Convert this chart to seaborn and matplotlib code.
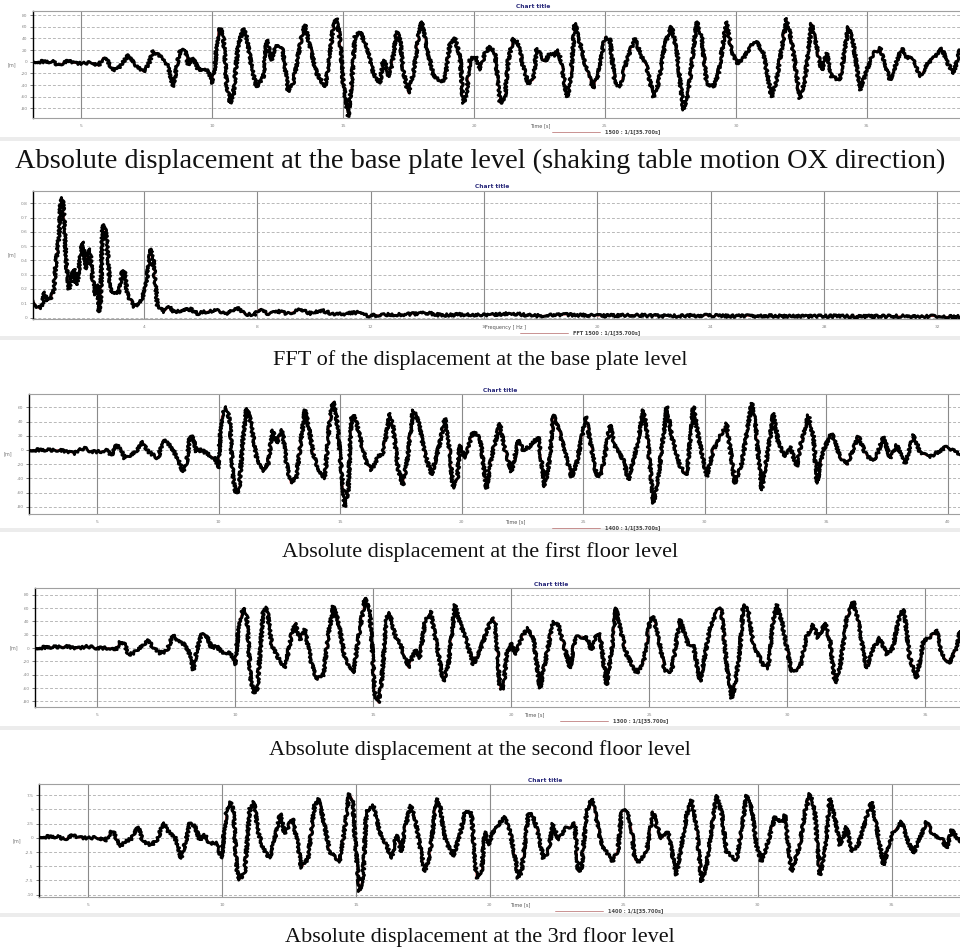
import matplotlib
matplotlib.use("Agg")
import matplotlib.pyplot as plt
from matplotlib.patches import Rectangle
import seaborn as sns

sns.set_theme(style="white")
plt.rcParams['font.family'] = ['DejaVu Sans']

# ---- base plate displacement (time [s], displacement)
base_t = [3.18, 3.94, 4.13, 4.52, 4.77, 5.47, 5.66, 5.85, 6.04, 6.23, 6.42, 6.81, 6.93, 7.12, 7.38,
          7.57, 7.76, 7.95, 8.14, 8.33, 8.52, 8.65, 8.78, 8.97, 9.10, 9.22, 9.35, 9.48, 9.73, 9.86,
          9.99, 10.11, 10.24, 10.37, 10.43, 10.56, 10.69, 10.81, 10.99, 11.20, 11.32, 11.51, 11.70,
          11.96, 12.09, 12.28, 12.40, 12.66, 12.79, 12.91, 13.10, 13.42, 13.55, 13.74, 14.00, 14.31,
          14.44, 14.63, 14.76, 14.89, 15.01, 15.20, 15.33, 15.46, 15.65, 15.90, 16.16, 16.41, 16.54,
          16.67, 16.73, 16.86, 17.05, 17.18, 17.30, 17.49, 17.69, 17.88, 18.00, 18.19, 18.45, 18.70,
          18.89, 19.08, 19.27, 19.47, 19.59, 19.72, 19.85, 19.97, 20.10, 20.23, 20.42, 20.61, 20.80,
          21.00, 21.18, 21.31, 21.50, 21.69, 21.88, 22.07, 22.27, 22.39, 22.58, 22.71, 22.90, 23.09,
          23.21, 23.34, 23.54, 23.66, 23.85, 24.05, 24.30, 24.55, 24.75, 25.00, 25.19, 25.38, 25.57,
          25.83, 26.15, 26.34, 26.59, 26.85, 27.04, 27.29, 27.54, 27.74, 27.99, 28.18, 28.50, 28.69,
          28.88, 29.14, 29.33, 29.64, 29.83, 30.03, 30.28, 30.60, 30.79, 31.04, 31.36, 31.55, 31.93,
          32.12, 32.44, 32.63, 32.89, 33.08, 33.27, 33.46, 33.65, 33.97, 34.29, 34.48, 34.73, 34.99,
          35.24, 35.50, 35.69, 35.88, 36.32, 36.51, 36.77, 37.02, 37.28, 37.60, 37.86, 38.05, 38.30,
          38.55]
base_d = [0, 0, -5.7, 1.7, -2.9, -1.7, -7.4, 7.4, 0, -15.4, -11.4, 11.4, 2.9, -8.6, -17.1,
          -5.7, 18.8, 11.4, 5.7, -8.6, -42.8, -8.6, 18.8, 20.0, -5.7, 5.7, 0, -14.3, -11.4, -17.1,
          -37.1, -8.6, 54.2, 57.1, 48.5, -37.1, -71.4, -60, 25.7, 57.1, 42.8, -8.6, -42.8,
          -25.7, 37.1, 2.9, 25.7, 25.7, -8.6, -51.4, -37.1, 42.8, 62.8, 25.7, -20, -42.8,
          -8.6, 60, 74.2, 37.1, -37.1, -94.2, -37.1, 42.8, 51.4, 25.7, -20, -37.1, 2.9,
          -8.6, -25.7, -8.6, 51.4, 37.1, -14.3, -54.2, -20, 42.8, 68.5, 25.7, -22.8, -34.2,
          -31.4, 28.5, 40, 8.6, -71.4, -54.2, 2.9, 8.6, 5.7, -14.3, 14.3, 25.7, 14.3,
          -71.4, -60, 2.9, 40, 31.4, -8.6, -37.1, -31.4, 22.8, 8.6, 0, 14.3, 11.4,
          20, -2.9, -60, -42.8, 65.7, 31.4, -14.3, -45.7, -20, 42.8, 37.1, -37.1, -42.8,
          2.9, 40, 14.3, -8.6, -60, -37.1, 31.4, 60, 20, -82.8, -54.2, 68.5, 42.8,
          -37.1, -42.8, -20, 68.5, 20, -2.9, 5.7, 28.5, 34.2, 14.3, -60, -31.4, 74.2,
          37.1, -62.8, -31.4, 65.7, 25.7, -14.3, 14.3, -25.7, -31.4, 60, 31.4, -48.5, -14.3,
          14.3, 22.8, -2.9, -31.4, 22.8, 8.6, 2.9, -25.7, -5.7, 8.6, 22.8, 0, -20,
          20]

# ---- FFT of base plate displacement (frequency [Hz], amplitude)
fft_f = [0.08, 0.18, 0.29, 0.41, 0.47, 0.59, 0.71, 0.82, 0.88, 1.00, 1.06, 1.12, 1.18, 1.24, 1.35,
         1.47, 1.53, 1.59, 1.65, 1.76, 1.82, 1.88, 1.94, 2.00, 2.09, 2.18, 2.29, 2.35, 2.41, 2.47,
         2.53, 2.59, 2.68, 2.82, 3.00, 3.12, 3.24, 3.32, 3.41, 3.65, 3.88, 4.06, 4.24, 4.33, 4.47,
         4.71, 4.88, 5.06, 5.29, 5.65, 5.88, 6.24, 6.59, 6.94, 7.29, 7.53, 7.88, 8.06, 8.35, 8.71,
         9.06, 9.53, 9.88, 10.29, 10.71, 11.18, 11.53, 11.88, 12.47, 13.06, 13.53, 14.00, 14.47,
         15.18, 15.88, 16.35, 16.94, 17.76, 18.94, 20.12, 21.29, 22.47, 23.65, 24.82, 26.00, 27.18,
         28.35, 29.53, 30.71, 31.88, 32.82]
fft_a = [0.12, 0.087, 0.063, 0.087, 0.18, 0.12, 0.13, 0.20, 0.37, 0.58, 0.82, 0.835, 0.69, 0.41, 0.20,
         0.30, 0.34, 0.23, 0.25, 0.44, 0.53, 0.46, 0.34, 0.46, 0.48, 0.27, 0.16, 0.23, 0.04, 0.13,
         0.62, 0.65, 0.55, 0.18, 0.17, 0.18, 0.33, 0.32, 0.16, 0.075, 0.11, 0.215, 0.48, 0.39, 0.087,
         0.04, 0.075, 0.04, 0.05, 0.058, 0.028, 0.044, 0.05, 0.028, 0.068, 0.028, 0.016, 0.058, 0.028, 0.044,
         0.028, 0.056, 0.028, 0.05, 0.021, 0.028, 0.035, 0.012, 0.021, 0.021, 0.026, 0.033, 0.016,
         0.021, 0.016, 0.02, 0.03, 0.012, 0.02, 0.012, 0.018, 0.01, 0.015, 0.01, 0.012, 0.008,
         0.01, 0.008, 0.01, 0.008, 0.006]

# ---- first floor displacement
first_t = [2.20, 3.46, 3.74, 4.08, 4.22, 4.49, 4.77, 5.11, 5.38, 5.59, 5.80, 6.00, 6.14, 6.41, 6.62,
           6.89, 7.03, 7.30, 7.51, 7.71, 7.92, 8.13, 8.33, 8.54, 8.68, 8.81, 8.95, 9.09, 9.29, 9.50,
           9.84, 9.98, 10.12, 10.30, 10.46, 10.60, 10.71, 10.84, 11.01, 11.15, 11.31, 11.56, 11.83,
           12.04, 12.22, 12.38, 12.63, 12.79, 12.96, 13.20, 13.55, 13.68, 13.89, 14.16, 14.37, 14.57,
           14.71, 14.85, 15.05, 15.19, 15.33, 15.47, 15.60, 15.81, 16.08, 16.29, 16.56, 16.77, 17.04,
           17.18, 17.39, 17.59, 17.80, 18.00, 18.21, 18.48, 18.76, 19.10, 19.31, 19.44, 19.65, 19.82,
           19.92, 20.13, 20.47, 20.75, 21.02, 21.23, 21.57, 21.78, 22.05, 22.33, 22.53, 22.81, 23.15,
           23.42, 23.63, 23.77, 24.04, 24.52, 24.73, 25.11, 25.35, 25.55, 25.76, 26.10, 26.31, 26.65,
           26.86, 27.20, 27.48, 27.61, 27.89, 28.09, 28.44, 28.64, 28.99, 29.26, 29.53, 29.74, 30.08,
           30.35, 30.63, 30.90, 31.24, 31.52, 31.93, 32.07, 32.34, 32.69, 32.82, 33.03, 33.30, 33.51,
           33.78, 33.99, 34.26, 34.47, 34.61, 34.88, 35.22, 35.57, 35.84, 36.32, 36.67, 37.01, 37.35,
           37.63, 37.90, 38.25, 38.59, 38.87, 39.28, 39.96, 40.51]
first_d = [0, 0, -2.3, -4.7, 0, 2.3, -2.3, -2.3, 0, -7.0, 7.0, 0, -11.7, -7.0, -2.3,
           11.7, 0, -7.0, -11.7, 14.0, 9.4, 0, -14.0, -30.4, -18.7, 16.4, 18.7, -2.3, 0, -4.7,
           -11.7, -25.7, 46.8, 60.8, 42.1, -42.1, -60.8, -56.2, 18.7, 58.5, 42.1, -9.4, -30.4,
           -18.7, 28.1, 9.4, 28.1, -18.7, -46.8, -37.4, 56.2, 37.4, -4.7, -32.8, -39.8, 42.1,
           67.9, 46.8, -28.1, -79.6, -56.2, 46.8, 49.1, 18.7, -18.7, -28.1, -9.4, -4.7, 51.5,
           32.8, -28.1, -49.1, -4.7, 56.2, 42.1, -4.7, -35.1, 9.4, 44.5, 18.7, -53.8, -42.1,
           7.0, -11.7, 25.7, 18.7, -53.8, -9.4, 37.4, 0, -30.4, 14.0, 0, 4.7, 18.7,
           -51.5, -9.4, 49.1, 23.4, -37.4, -18.7, 46.8, 0, -37.4, -32.8, 35.1, 4.7, -14.0,
           -42.1, 4.7, 56.2, 28.1, -74.9, -37.4, 60.8, 18.7, -23.4, -35.1, 60.8, 18.7, -37.4,
           0, 18.7, 37.4, -46.8, -18.7, 65.5, 42.1, -56.2, 18.7, 51.5, 9.4, -9.4, 4.7,
           -23.4, 14.0, 49.1, 18.7, -46.8, 0, 23.4, -9.4, -21.1, 18.7, -9.4, -14.0, 18.7,
           -11.7, 7.0, -18.7, 21.1, -4.7, -9.4, 4.7, -7.0]

# ---- second floor displacement
second_t = [2.74, 3.89, 4.25, 4.61, 4.98, 5.46, 5.64, 5.82, 6.00, 6.12, 6.30, 6.55, 6.85, 7.03, 7.27,
            7.51, 7.75, 7.93, 8.18, 8.36, 8.48, 8.62, 8.78, 8.96, 9.14, 9.32, 9.50, 9.81, 9.99, 10.14,
            10.29, 10.41, 10.56, 10.68, 10.80, 11.01, 11.14, 11.32, 11.56, 11.80, 12.04, 12.16, 12.34,
            12.52, 12.77, 12.95, 13.19, 13.37, 13.55, 13.73, 13.97, 14.28, 14.46, 14.70, 14.88, 15.06,
            15.18, 15.30, 15.48, 15.60, 15.78, 16.03, 16.27, 16.51, 16.69, 16.87, 17.08, 17.23, 17.54,
            17.72, 17.96, 18.08, 18.38, 18.62, 18.87, 19.29, 19.41, 19.59, 19.71, 19.83, 20.01, 20.13,
            20.43, 20.61, 20.80, 21.04, 21.28, 21.52, 21.70, 22.00, 22.13, 22.31, 22.43, 22.73, 22.91,
            23.09, 23.21, 23.45, 23.70, 23.79, 23.94, 24.18, 24.54, 24.78, 25.02, 25.14, 25.33, 25.57,
            25.81, 26.11, 26.29, 26.41, 26.59, 26.84, 27.02, 27.20, 27.50, 27.62, 27.80, 27.99, 28.11,
            28.29, 28.41, 28.59, 28.77, 29.13, 29.31, 29.49, 29.61, 29.80, 29.98, 30.16, 30.46, 30.70,
            30.94, 31.12, 31.37, 31.55, 31.73, 31.91, 32.15, 32.39, 32.57, 32.87, 33.12, 33.36, 33.60,
            33.82, 34.08, 34.23, 34.44, 34.69, 34.93, 35.29, 35.41, 35.59, 35.89, 36.14, 36.26]
second_d = [0, 2.5, -1, 2.5, 0, 0, -4, 9, 5, -10, -7.5, 0, 11, 0, -7.5,
            -5, 20, 10, 5, -10, -32.5, 0, 20, 19, 0, 2.5, -6, -7.5, -25, 40,
            60, 50, -50, -67.5, -60, 55, 60, 5, -15, -30, 20, 37.5, 12.5,
            27.5, -25, -47.5, -40, 20, 62.5, 40, -15, -37.5, 15, 75, 52.5, -70,
            -82.5, -50, 45, 52.5, 20, 0, -30, -2.5, -15, 40, 55, 20, -50,
            -25, 65, 45, 10, -25, -2.5, 45, 40, -60, -62.5, -10, 7.5, -10,
            20, 30, 15, -60, -10, 40, 35, -10, -30, 15, 17.5, 15, -2.5,
            20, 22.5, -55, 15, 60, 30, -10, -37.5, -25, 40, 47.5, 15, -35,
            -35, 42.5, 20, 5, 5, -50, -10, 30, 60, 55, -25, -75, -55,
            0, 65, 55, 5, -25, -30, 40, 65, 40, 0, -35, -30, 17.5,
            35, 15, 37.5, 10, -52.5, -30, 45, 70, 40, -30, 0, 15, -10,
            0, 50, 57.5, -15, -45, 10, 20, 27.5, -10, -22.5, 0, 25]

# ---- 3rd floor displacement
third_t = [3.17, 3.88, 4.13, 4.44, 4.63, 5.44, 5.62, 5.87, 5.99, 6.18, 6.37, 6.62, 6.87, 7.05, 7.37,
           7.61, 7.80, 7.99, 8.24, 8.48, 8.67, 8.80, 8.98, 9.17, 9.36, 9.54, 9.79, 9.98, 10.17, 10.30,
           10.42, 10.56, 10.66, 10.85, 11.04, 11.19, 11.35, 11.54, 11.78, 12.03, 12.18, 12.34, 12.63,
           12.84, 12.96, 13.21, 13.46, 13.59, 13.78, 14.02, 14.40, 14.58, 14.75, 14.87, 15.02, 15.14,
           15.27, 15.39, 15.64, 15.89, 16.14, 16.33, 16.51, 16.70, 16.83, 17.04, 17.20, 17.45, 17.57,
           17.76, 18.01, 18.13, 18.32, 18.63, 18.88, 19.07, 19.31, 19.50, 19.69, 19.81, 19.94, 20.12,
           20.31, 20.56, 20.75, 20.93, 21.06, 21.18, 21.43, 21.56, 21.68, 21.87, 22.00, 22.18, 22.36,
           22.55, 22.80, 22.99, 23.17, 23.30, 23.42, 23.61, 23.80, 23.92, 24.17, 24.42, 24.60, 24.79,
           24.92, 25.10, 25.29, 25.41, 25.60, 25.85, 26.10, 26.22, 26.41, 26.66, 26.84, 26.97, 27.09,
           27.34, 27.53, 27.72, 27.90, 28.09, 28.28, 28.46, 28.65, 28.83, 29.09, 29.21, 29.40, 29.58,
           29.77, 29.95, 30.14, 30.39, 30.64, 30.89, 31.01, 31.26, 31.57, 31.76, 31.95, 32.13, 32.32,
           32.51, 32.69, 32.88, 33.07, 33.32, 33.50, 33.75, 34.00, 34.25, 34.43, 34.69, 34.87, 35.06,
           35.37, 35.56, 35.81, 36.05, 36.30, 36.55, 36.87, 37.05, 37.24, 37.55]
third_d = [0.17, 0.17, -0.23, 0.47, 0, 0, -0.58, 1.05, 0.76, -1.57, -0.70, -0.12, 1.92, -0.70, -1.28,
           -0.12, 2.67, 1.16, 0.17, -3.6, -0.12, 2.5, 2.21, -0.41, 0.47, -0.99, -0.99, -3.6, 4.83, 6.28,
           5.12, -5.93, -7.38, -5.93, 5.12, 6.28, 1.05, -1.86, -3.6, 1.05, 4.24, 0.76, 3.37,
           -1.28, -5.35, -3.6, 5.7, 6.86, 3.37, -2.44, -4.19, 1.63, 7.73, 6.86, -3.6, -9.42,
           -6.51, 4.53, 5.7, 1.05, -1.28, -3.6, 0.47, -2.44, 1.63, 5.7, 3.66, -3.02, -5.93,
           -3.02, 6.86, 5.7, -0.12, -3.31, 0.47, 4.53, 4.24, -7.09, -5.93, 1.05, -1.28, 1.05,
           2.21, 3.66, 1.05, -3.02, -7.09, -5.93, 3.95, 4.24, 2.79, -0.70, -3.6, -2.44, 2.5,
           -0.41, 1.63, 1.92, 2.5, -5.93, -5.35, 4.53, 6.86, 4.53, -1.28, -3.02, -4.19, -1.86,
           4.53, 4.83, 1.63, -3.9, -4.19, -2.44, 4.53, 2.21, -0.12, 1.05, -3.6, -6.51, -3.02,
           3.95, 6.57, 1.63, -7.67, -4.77, 1.63, 7.44, 4.53, -2.44, -3.6, -3.9, 1.63, 7.44,
           5.12, -1.28, -4.19, -0.70, 3.66, 2.79, 3.95, -5.93, -1.28, 4.53, 7.73, 4.53, -6.51,
           -2.44, 6.86, 3.37, -1.28, 1.92, -2.44, -1.28, 2.79, 6.28, 2.21, -4.77, -1.86, 1.05,
           2.79, -0.12, -2.73, -0.12, 2.79, 0.47, -0.12, -1.86, 1.34, -0.70]

disp_ticks = [-80, -60, -40, -20, 0, 20, 40, 60, 80]
fft_ticks = [0, 0.1, 0.2, 0.3, 0.4, 0.5, 0.6, 0.7, 0.8]
third_ticks = [-10, -7.5, -5, -2.5, 0, 2.5, 5, 7.5]
time_ticks = [5, 10, 15, 20, 25, 30, 35, 40]
freq_ticks = [4, 8, 12, 16, 20, 24, 28, 32]

captions = [
    "Absolute displacement at the base plate level (shaking table motion OX direction)",
    "FFT of the displacement at the base plate level",
    "Absolute displacement at the first floor level",
    "Absolute displacement at the second floor level",
    "Absolute displacement at the 3rd floor level",
]
legend_texts = ["1500 : 1/1[35.700s]", "FFT 1500 : 1/1[35.700s]", "1400 : 1/1[35.700s]",
                "1300 : 1/1[35.700s]", "1400 : 1/1[35.700s]"]
xlabels = ["Time [s]", "Frequency [ Hz ]", "Time [s]", "Time [s]", "Time [s]"]

W, H = 960, 948
fig = plt.figure(figsize=(9.6, 9.48), dpi=100)
fig.patch.set_facecolor("white")
serif = ["Liberation Serif", "DejaVu Serif"]
cap_size = 16

# pixel layout of each screenshot
panels = [
    dict(x=base_t, y=base_d, L=33, T=11, B=118, xlim=(3.17, 38.55), ylim=(-96.5, 86.9),
         yt=disp_ticks, xt=time_ticks, tx=533, cap=161, xl=540, lg=552),
    dict(x=fft_f, y=fft_a, L=33, T=191, B=319, xlim=(0.08, 32.8), ylim=(-0.01, 0.886),
         yt=fft_ticks, xt=freq_ticks, tx=492, cap=360, xl=506, lg=520),
    dict(x=first_t, y=first_d, L=29, T=394, B=514, xlim=(2.2, 40.5), ylim=(-90, 78.7),
         yt=disp_ticks, xt=time_ticks, tx=500, cap=552, xl=515, lg=552),
    dict(x=second_t, y=second_d, L=35, T=588, B=707, xlim=(2.74, 36.26), ylim=(-88.5, 90),
         yt=disp_ticks, xt=time_ticks, tx=551, cap=750, xl=534, lg=560),
    dict(x=third_t, y=third_d, L=39, T=784, B=897, xlim=(3.17, 37.55), ylim=(-10.4, 9.44),
         yt=third_ticks, xt=time_ticks, tx=545, cap=937, xl=520, lg=555),
]

for i, p in enumerate(panels):
    ax = fig.add_axes([p["L"] / W, 1 - p["B"] / H, (W - p["L"]) / W, (p["B"] - p["T"]) / H])
    ax.set_facecolor("white")
    xt = [v for v in p["xt"] if p["xlim"][0] <= v <= p["xlim"][1] - 0.5]
    yt = [v for v in p["yt"] if p["ylim"][0] <= v <= p["ylim"][1]]
    for yv in yt:
        ax.axhline(yv, color="#b8b8b8", lw=0.7, ls=(0, (3, 2)), zorder=1)
    for xv in xt:
        ax.axvline(xv, color="#8a8a8a", lw=0.8, zorder=1)
    sns.lineplot(x=p["x"], y=p["y"], ax=ax, color="#c03a3a", linewidth=0.9,
                 estimator=None, sort=False, zorder=2)
    sns.lineplot(x=p["x"], y=p["y"], ax=ax, color="black", linewidth=2.1,
                 estimator=None, sort=False, zorder=3)
    ax.lines[-1].set_sketch_params(scale=1.4, length=2.0, randomness=8)
    ax.set_xticks(xt)
    ax.set_yticks(yt)
    ax.set_yticklabels([("%g" % v) for v in yt])
    ax.set_xlim(*p["xlim"])
    ax.set_ylim(*p["ylim"])
    ax.tick_params(axis="both", labelsize=3.2, colors="#888888", length=2, width=0.5, pad=2)
    ax.tick_params(axis="y", left=True, color="#444444")
    ax.set_xlabel("")
    ax.set_ylabel("[m]", fontsize=3.5, color="#777777", rotation=0, labelpad=6, va="center")
    ax.spines["right"].set_visible(False)
    ax.spines["left"].set_color("black")
    ax.spines["left"].set_linewidth(1.0)
    for side in ["top", "bottom"]:
        ax.spines[side].set_color("#a0a0a0")
        ax.spines[side].set_linewidth(0.8)

    # small chart furniture
    fig.text(p["tx"] / W, 1 - (p["T"] - 4) / H, "Chart title", fontsize=4.2, color="#28287a",
             ha="center", va="center", fontweight="bold")
    fig.text(p["xl"] / W, 1 - (p["B"] + 8) / H, xlabels[i], fontsize=3.6, color="#555555",
             ha="center", va="center")
    ly = 1 - (p["B"] + 14) / H
    fig.add_artist(plt.Line2D([p["lg"] / W, (p["lg"] + 48) / W], [ly, ly], color="#c08080", lw=0.6))
    fig.text((p["lg"] + 53) / W, ly, legend_texts[i], fontsize=3.6, color="#444444",
             ha="left", va="center", fontweight="bold")

    # light border of the screenshot
    fig.add_artist(Rectangle((0, 1 - (p["cap"] - 20) / H), 1, 4 / H, transform=fig.transFigure,
                             facecolor="#ececec", edgecolor="none"))

# captions; the first one spans nearly the full width of the page
renderer = fig.canvas.get_renderer()
for i, p in enumerate(panels):
    yc = 1 - p["cap"] / H
    t = fig.text(0.5, yc, captions[i], fontsize=cap_size, ha="center", va="center",
                 family=serif, color="#111111")
    if i == 0:
        w = t.get_window_extent(renderer).width
        t.set_fontsize(cap_size * 930.0 / w)

fig.savefig("out.png", dpi=100, facecolor="white")
